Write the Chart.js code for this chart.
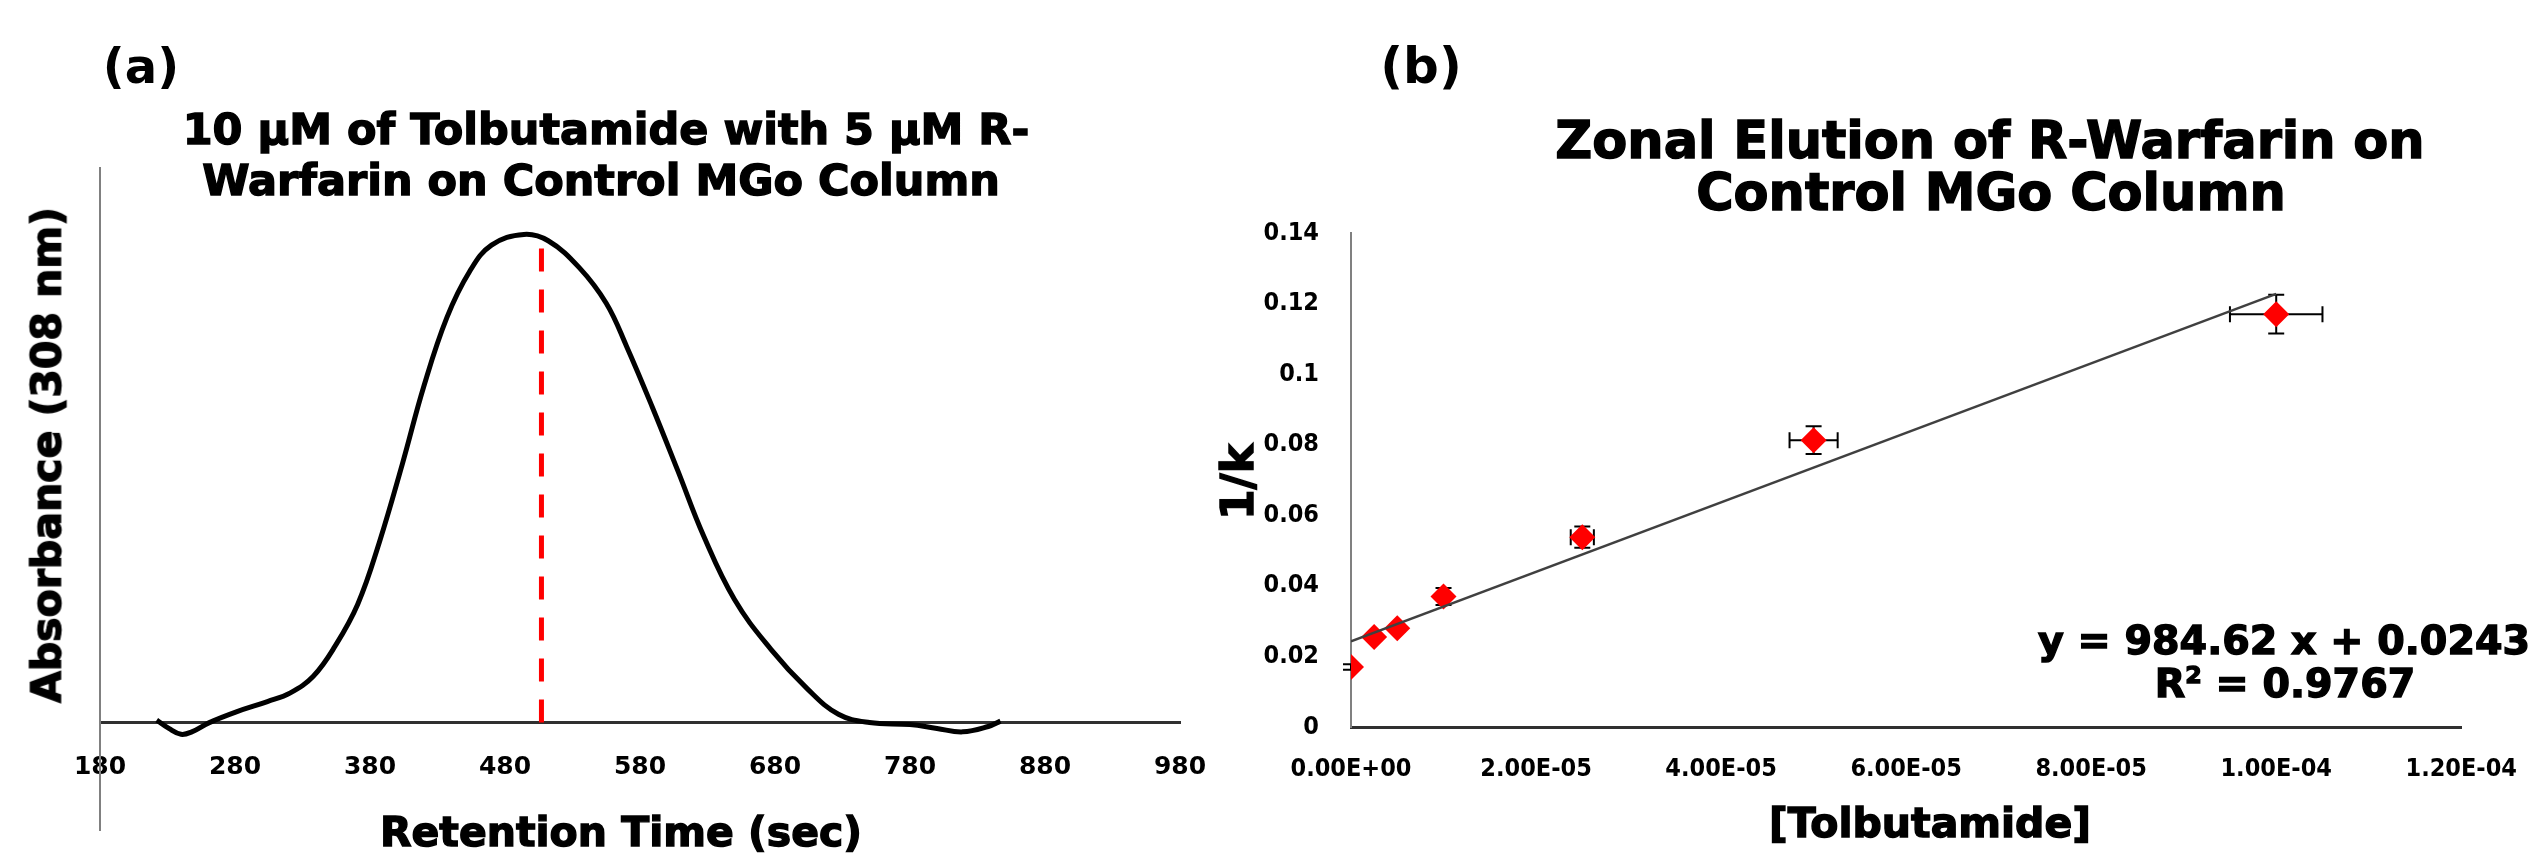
<!DOCTYPE html>
<html>
<head>
<meta charset="utf-8">
<script src="https://cdn.jsdelivr.net/npm/chart.js@4.4.1/dist/chart.umd.min.js"></script>
<style>
  html, body { margin: 0; padding: 0; background: #ffffff; }
  #wrap { position: relative; width: 2544px; height: 862px; overflow: hidden; background: #fff; }
  .panel { position: absolute; top: 0; height: 862px; }
  #pa { left: 0; width: 1272px; }
  #pb { left: 1190px; width: 1354px; }
  .txt { position: absolute; white-space: nowrap; font-family: "DejaVu Sans", sans-serif; font-weight: bold; color: #000; line-height: 1; }
  .heavy { -webkit-text-stroke: 1.4px #000; }
  .c { transform: translate(-50%, -50%); text-align: center; }
  .rot { transform: translate(-50%, -50%) rotate(-90deg); }
</style>
</head>
<body>
<div id="wrap">
  <div class="panel" id="pa"><canvas id="ca" width="1272" height="862"></canvas></div>
  <div class="panel" id="pb"><canvas id="cb" width="1354" height="862"></canvas></div>

  <div class="txt c" id="labA" style="left:141px; top:66px; font-size:48px;"></div>
  <div class="txt c heavy" id="titleA1" style="left:606px; top:129px; font-size:43px;"></div>
  <div class="txt c heavy" id="titleA2" style="left:601px; top:180px; font-size:43px;"></div>
  <div class="txt rot heavy" id="yTitleA" style="left:47px; top:455px; font-size:41px;"></div>
  <div class="txt c heavy" id="xTitleA" style="left:621px; top:832px; font-size:41px;"></div>

  <div class="txt c" id="labB" style="left:1421px; top:66px; font-size:50px;"></div>
  <div class="txt c heavy" id="titleB1" style="left:1990px; top:140px; font-size:51px;"></div>
  <div class="txt c heavy" id="titleB2" style="left:1991px; top:192px; font-size:51px;"></div>
  <div class="txt rot heavy" id="yTitleB" style="left:1238px; top:482px; font-size:44px;"></div>
  <div class="txt c heavy" id="xTitleB" style="left:1930px; top:823px; font-size:41px;"></div>
  <div class="txt c heavy" id="eq1" style="left:2284px; top:641px; font-size:39.6px;"></div>
  <div class="txt c heavy" id="eq2" style="left:2285px; top:684px; font-size:39.6px;"></div>
</div>

<script>
// ---------------- DATA ----------------
// Panel (a): chromatogram
const retentionTime = [222, 231, 240, 248, 261, 281, 304, 321, 338, 354, 371, 387, 404, 420, 437, 454, 470, 494,
                       512, 535, 555, 570, 589, 608, 627, 650, 677, 704, 727, 750, 780, 800, 819, 838, 847];
const absorbance    = [0.005, -0.012, -0.024, -0.019, 0.0, 0.022, 0.043, 0.061, 0.095, 0.156, 0.243, 0.37, 0.53, 0.69, 0.83, 0.925, 0.978, 1.0,
                       0.987, 0.932, 0.859, 0.771, 0.647, 0.516, 0.383, 0.252, 0.150, 0.069, 0.017, 0.0, -0.004, -0.012, -0.019, -0.008, 0.003];
const peakMarkerTime = [507, 507];
const peakMarkerAbs  = [0, 0.985];
const retentionTicks = [180, 280, 380, 480, 580, 680, 780, 880, 980];

// Panel (b): 1/k vs [Tolbutamide]
const tolbutamide    = [0, 2.5e-6, 5e-6, 1e-5, 2.5e-5, 5e-5, 1e-4];
const inverseK       = [0.017, 0.0255, 0.028, 0.037, 0.0538, 0.0813, 0.117];
const inverseKError  = [0.0008, 0.001, 0.001, 0.0024, 0.003, 0.0039, 0.0055];
const tolbutamideErr = [0, 2e-7, 3e-7, 5e-7, 1.25e-6, 2.6e-6, 5e-6];
const fitSlope = 984.62;
const fitIntercept = 0.0243;
const fitR2 = 0.9767;
const fitRange = [0, 1e-4];
const concTicks = [0, 2e-5, 4e-5, 6e-5, 8e-5, 1e-4, 1.2e-4];
const inverseKTicks = [0, 0.02, 0.04, 0.06, 0.08, 0.1, 0.12, 0.14];

// Texts
const panelLabels = ['(a)', '(b)'];
const titleA = ['10 \u03bcM of Tolbutamide with 5 \u03bcM R-', 'Warfarin on Control MGo Column'];
const titleB = ['Zonal Elution of R-Warfarin on', 'Control MGo Column'];
const axisTitlesA = ['Retention Time (sec)', 'Absorbance (308 nm)'];
const axisTitlesB = ['[Tolbutamide]', '1/k'];

// ---------------- TEXT OVERLAYS ----------------
document.getElementById('labA').textContent = panelLabels[0];
document.getElementById('labB').textContent = panelLabels[1];
document.getElementById('titleA1').textContent = titleA[0];
document.getElementById('titleA2').textContent = titleA[1];
document.getElementById('titleB1').textContent = titleB[0];
document.getElementById('titleB2').textContent = titleB[1];
document.getElementById('xTitleA').textContent = axisTitlesA[0];
document.getElementById('yTitleA').textContent = axisTitlesA[1];
document.getElementById('xTitleB').textContent = axisTitlesB[0];
document.getElementById('yTitleB').textContent = axisTitlesB[1];
document.getElementById('eq1').textContent = 'y = ' + fitSlope.toFixed(2) + ' x + ' + fitIntercept.toFixed(4);
document.getElementById('eq2').innerHTML = 'R<sup style="font-size:0.6em;vertical-align:0.6em;line-height:0">2</sup> = ' + fitR2.toFixed(4);

// ---------------- CHART (a) ----------------
const tickFontA = { family: '"DejaVu Sans", sans-serif', weight: 'bold', size: 25 };
const tickFontB = { family: '"DejaVu Sans Condensed", "DejaVu Sans", sans-serif', weight: 'bold', size: 25 };
Chart.defaults.animation = false;
Chart.defaults.color = '#000';

new Chart(document.getElementById('ca'), {
  type: 'scatter',
  data: {
    datasets: [
      {
        data: retentionTime.map((t, i) => ({ x: t, y: absorbance[i] })),
        showLine: true,
        borderColor: '#000000',
        borderWidth: 5,
        pointRadius: 0,
        tension: 0.4,
        order: 1
      },
      {
        data: peakMarkerTime.map((t, i) => ({ x: t, y: peakMarkerAbs[i] })),
        showLine: true,
        borderColor: '#ff0000',
        borderWidth: 5,
        borderDash: [23, 18],
        pointRadius: 0,
        order: 0
      }
    ]
  },
  options: {
    responsive: false,
    devicePixelRatio: 1,
    animation: false,
    layout: { padding: { left: 0, right: 92, top: 168, bottom: 32 } },
    plugins: { legend: { display: false }, tooltip: { enabled: false } },
    scales: {
      x: {
        type: 'linear',
        position: { y: 0 },
        min: 180, max: 980,
        afterBuildTicks: (s) => { s.ticks = retentionTicks.map(v => ({ value: v })); },
        afterFit: (s) => { s.height = 0; },
        grid: { display: false, drawTicks: false },
        border: { display: true, color: '#303030', width: 3 },
        ticks: { font: tickFontA, color: '#000', padding: 30, maxRotation: 0, autoSkip: false,
                 callback: (v) => String(v) }
      },
      y: {
        type: 'linear',
        min: -0.22, max: 1.136,
        afterFit: (s) => { s.width = 100; },
        grid: { display: false, drawTicks: false },
        border: { display: true, color: '#808080', width: 2 },
        ticks: { display: false }
      }
    }
  }
});

// ---------------- CHART (b) ----------------
function fmtSci(v) {
  if (Math.abs(v) < 1e-15) return '0.00E+00';
  const e = Math.floor(Math.log10(Math.abs(v)) + 1e-9);
  const m = v / Math.pow(10, e);
  return m.toFixed(2) + 'E' + (e < 0 ? '-' : '+') + String(Math.abs(e)).padStart(2, '0');
}

const errorBars = {
  id: 'errorBars',
  beforeDatasetsDraw(chart) {
    const { ctx, scales: { x, y } } = chart;
    ctx.save();
    ctx.strokeStyle = '#000';
    ctx.lineWidth = 2;
    const cap = 8;
    tolbutamide.forEach((c, i) => {
      const px = x.getPixelForValue(c);
      const py = y.getPixelForValue(inverseK[i]);
      const yt = y.getPixelForValue(inverseK[i] + inverseKError[i]);
      const yb = y.getPixelForValue(inverseK[i] - inverseKError[i]);
      const xl = x.getPixelForValue(c - tolbutamideErr[i]);
      const xr = x.getPixelForValue(c + tolbutamideErr[i]);
      ctx.beginPath();
      ctx.moveTo(px, yt); ctx.lineTo(px, yb);
      ctx.moveTo(px - cap, yt); ctx.lineTo(px + cap, yt);
      ctx.moveTo(px - cap, yb); ctx.lineTo(px + cap, yb);
      if (tolbutamideErr[i] > 0) {
        ctx.moveTo(xl, py); ctx.lineTo(xr, py);
        ctx.moveTo(xl, py - cap); ctx.lineTo(xl, py + cap);
        ctx.moveTo(xr, py - cap); ctx.lineTo(xr, py + cap);
      }
      ctx.stroke();
    });
    ctx.restore();
  }
};

new Chart(document.getElementById('cb'), {
  type: 'scatter',
  data: {
    datasets: [
      {
        data: tolbutamide.map((c, i) => ({ x: c, y: inverseK[i] })),
        pointStyle: 'rectRot',
        pointRadius: 13,
        pointBackgroundColor: '#ff0000',
        pointBorderColor: '#ff0000',
        pointBorderWidth: 0,
        showLine: false,
        order: 1
      },
      {
        data: fitRange.map(c => ({ x: c, y: fitSlope * c + fitIntercept })),
        showLine: true,
        borderColor: '#404040',
        borderWidth: 2.5,
        pointRadius: 0,
        order: 0
      }
    ]
  },
  options: {
    responsive: false,
    devicePixelRatio: 1,
    animation: false,
    layout: { padding: { left: 0, right: 79, top: 233, bottom: 0 } },
    plugins: { legend: { display: false }, tooltip: { enabled: false } },
    scales: {
      x: {
        type: 'linear',
        position: 'bottom',
        min: 0, max: 1.2e-4,
        afterBuildTicks: (s) => { s.ticks = concTicks.map(v => ({ value: v })); },
        afterFit: (s) => { s.height = 135; },
        grid: { display: false, drawTicks: false },
        border: { display: true, color: '#303030', width: 3 },
        ticks: { font: tickFontB, color: '#000', padding: 27, maxRotation: 0, autoSkip: false,
                 callback: (v) => fmtSci(v) }
      },
      y: {
        type: 'linear',
        min: 0, max: 0.14,
        afterBuildTicks: (s) => { s.ticks = inverseKTicks.map(v => ({ value: v })); },
        afterFit: (s) => { s.width = 161; },
        grid: { display: false, drawTicks: false },
        border: { display: true, color: '#808080', width: 2 },
        ticks: { font: tickFontB, color: '#000', padding: 32,
                 callback: (v) => String(parseFloat(v.toFixed(2))) }
      }
    }
  },
  plugins: [errorBars]
});
</script>
</body>
</html>
